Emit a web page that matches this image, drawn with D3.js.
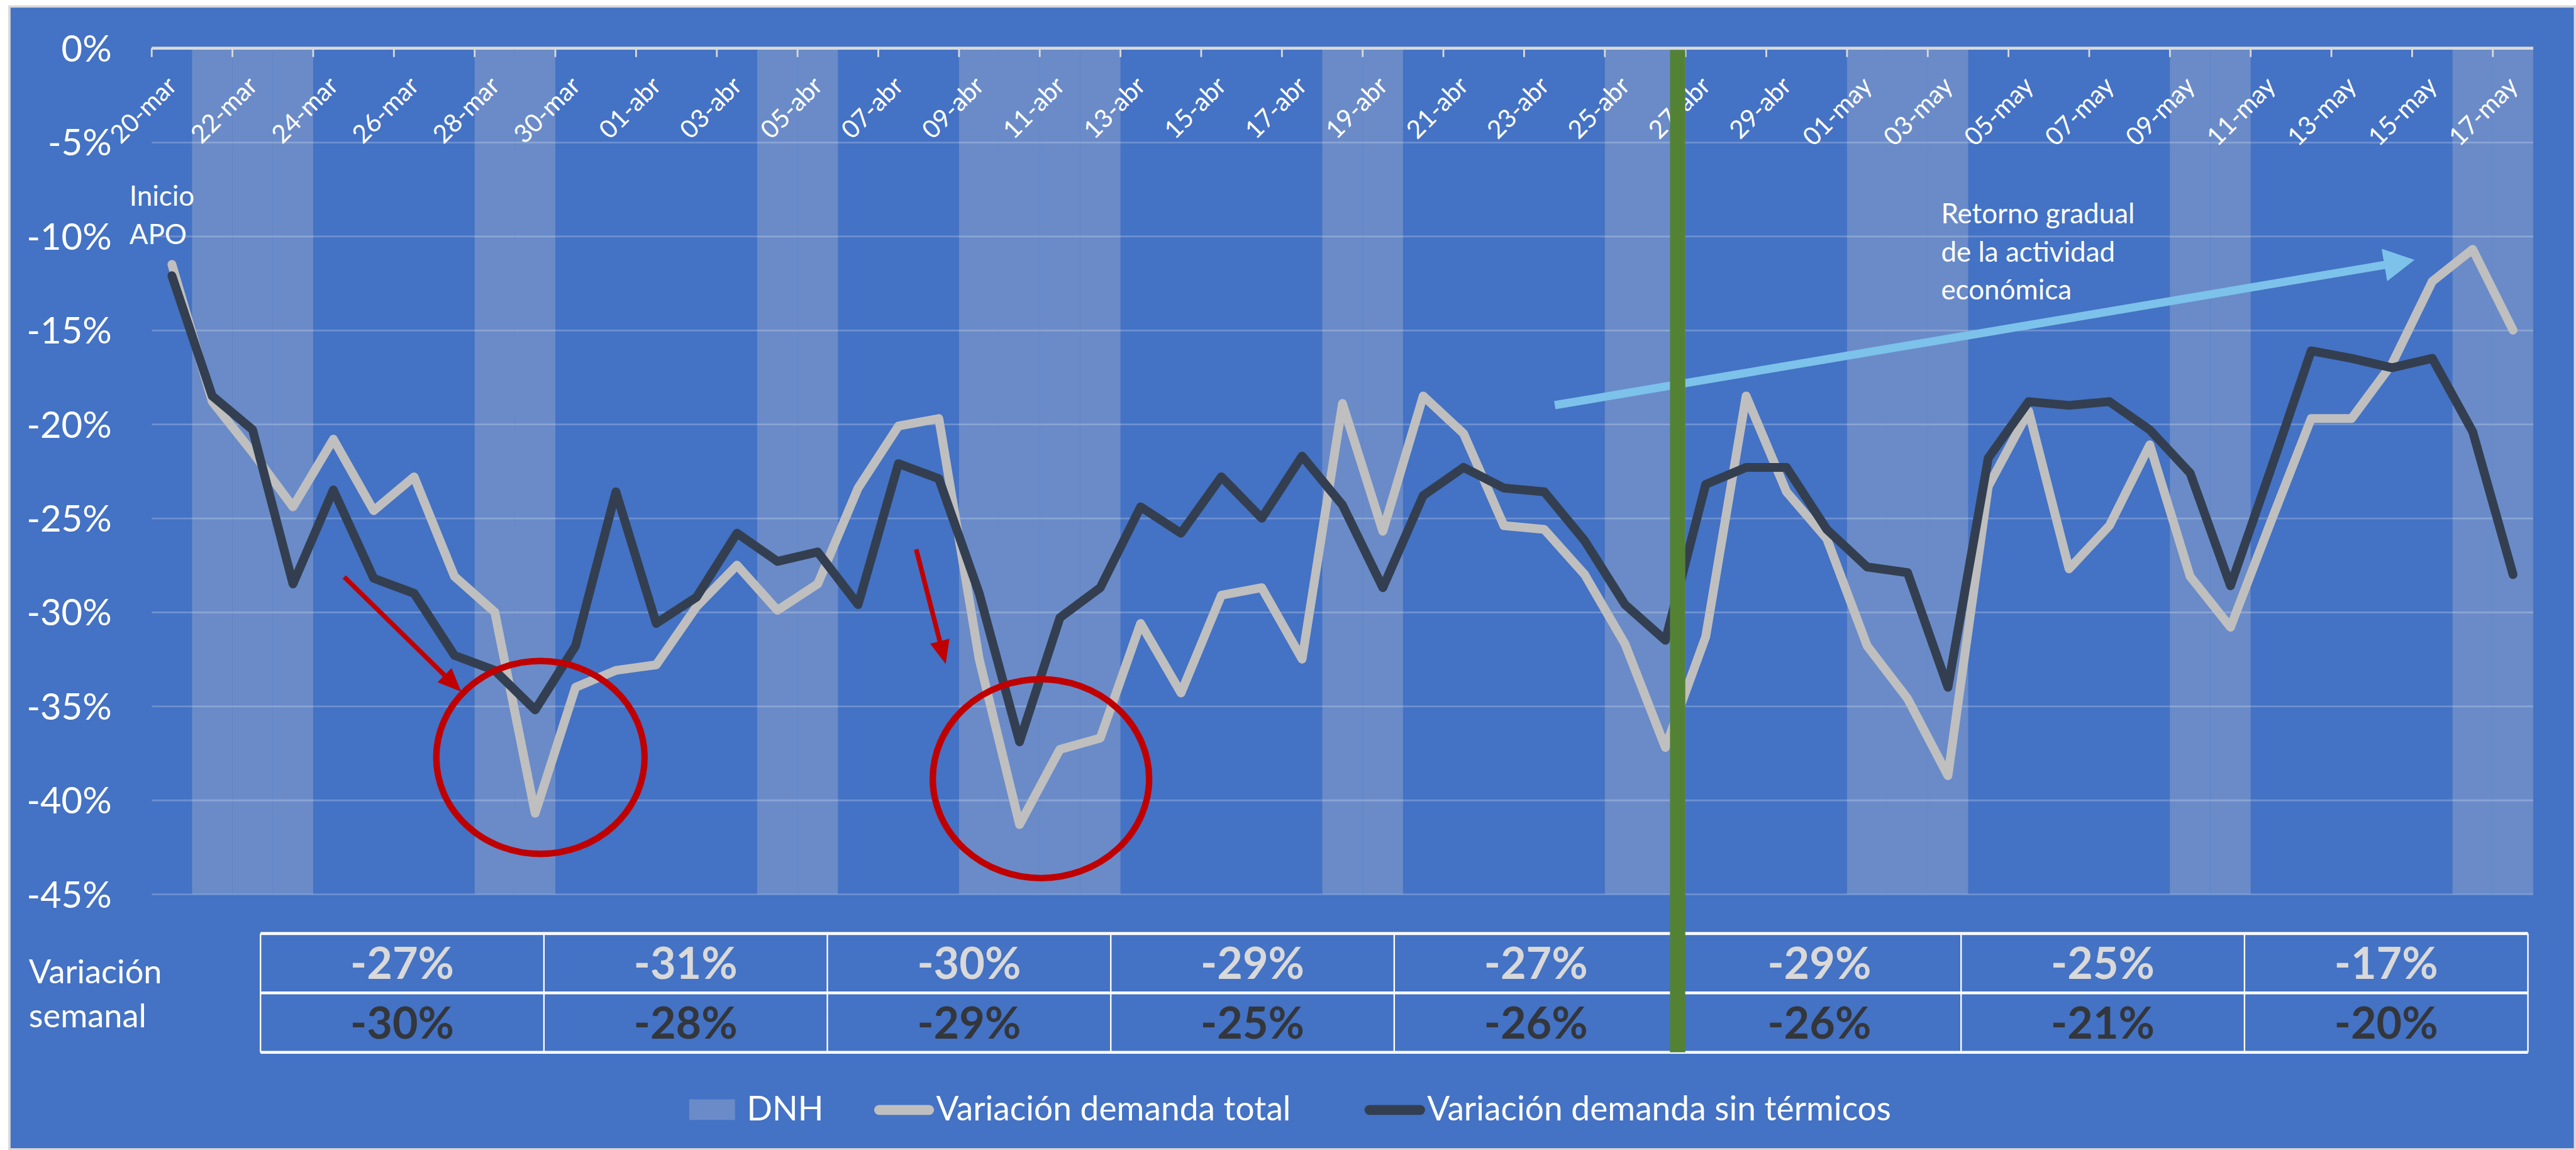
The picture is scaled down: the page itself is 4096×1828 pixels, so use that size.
<!DOCTYPE html>
<html>
<head>
<meta charset="utf-8">
<script src="https://cdn.jsdelivr.net/npm/d3@7"></script>
<style>
  html, body { margin: 0; padding: 0; background: #fff; }
  svg { display: block; }
  text { font-family: Lato, "Open Sans", sans-serif; }
</style>
</head>
<body>
<svg id="chart" width="4096" height="1828"></svg>
<script>
// categories, one per day
const dates = ["20-mar","21-mar","22-mar","23-mar","24-mar","25-mar","26-mar","27-mar","28-mar","29-mar","30-mar","31-mar",
  "01-abr","02-abr","03-abr","04-abr","05-abr","06-abr","07-abr","08-abr","09-abr","10-abr","11-abr","12-abr","13-abr","14-abr",
  "15-abr","16-abr","17-abr","18-abr","19-abr","20-abr","21-abr","22-abr","23-abr","24-abr","25-abr","26-abr","27-abr","28-abr",
  "29-abr","30-abr","01-may","02-may","03-may","04-may","05-may","06-may","07-may","08-may","09-may","10-may","11-may","12-may",
  "13-may","14-may","15-may","16-may","17-may"];

// non working days (DNH) drawn as columns down to -45%
const dnhDays = ["21-mar","22-mar","23-mar","28-mar","29-mar","04-abr","05-abr","09-abr","10-abr","11-abr","12-abr",
  "18-abr","19-abr","25-abr","26-abr","01-may","02-may","03-may","09-may","10-may","16-may","17-may"];
const dnhValue = -45;

// variacion demanda total (%)
const total = [-11.5,-18.8,-21.5,-24.4,-20.8,-24.6,-22.8,-28.1,-30.0,-40.7,-34.0,-33.1,-32.8,-29.7,-27.5,-29.9,-28.5,-23.4,
  -20.1,-19.7,-32.5,-41.3,-37.3,-36.7,-30.6,-34.3,-29.1,-28.7,-32.5,-18.9,-25.7,-18.5,-20.5,-25.4,-25.6,-28.0,-31.7,-37.2,
  -31.3,-18.5,-23.6,-26.1,-31.8,-34.6,-38.7,-23.3,-19.3,-27.7,-25.4,-21.1,-28.1,-30.8,-25.2,-19.7,-19.7,-16.8,-12.4,-10.7,-15.0];

// variacion demanda sin termicos (%)
const sinTermicos = [-12.1,-18.5,-20.3,-28.5,-23.5,-28.2,-29.0,-32.3,-33.1,-35.2,-31.8,-23.6,-30.6,-29.2,-25.8,-27.3,-26.8,-29.6,
  -22.1,-22.9,-29.0,-36.9,-30.3,-28.7,-24.4,-25.8,-22.8,-25.0,-21.7,-24.3,-28.7,-23.8,-22.3,-23.4,-23.6,-26.2,-29.6,-31.5,
  -23.2,-22.3,-22.3,-25.6,-27.6,-27.9,-34.0,-21.8,-18.8,-19.0,-18.8,-20.3,-22.6,-28.6,-22.4,-16.1,-16.5,-17.0,-16.5,-20.4,-28.0];

const yTicks = [0,-5,-10,-15,-20,-25,-30,-35,-40,-45];

// weekly table
const weeks = ["23-mar","30-mar","06-abr","13-abr","20-abr","27-abr","04-may","11-may"];
const weeklyTotal = [-27,-31,-30,-29,-27,-29,-25,-17];
const weeklySinTermicos = [-30,-28,-29,-25,-26,-26,-21,-20];

const S = 0.935;
const svg = d3.select("#chart");
const g = svg.append("g").attr("transform", `scale(${S})`);

// background panel
g.append("rect").attr("x", 16).attr("y", 11).attr("width", 4379 - 16).attr("height", 1954 - 11)
  .attr("fill", "#4472C4").attr("stroke", "#D9D9D9").attr("stroke-width", 4);

const x = d3.scaleBand().domain(dates).range([258, 4308]).padding(0);
const y = d3.scaleLinear().domain([-45, 0]).range([1520, 82]);
const xi = d3.scaleLinear().domain([0, dates.length]).range(x.range()); // fractional category positions
const cx = d => x(d) + x.bandwidth() / 2;

// DNH columns
g.append("g").selectAll("rect").data(dnhDays).join("rect")
  .attr("x", d => x(d)).attr("width", x.bandwidth())
  .attr("y", y(0)).attr("height", y(dnhValue) - y(0))
  .attr("fill", "#6A8BC8");

// y axis + gridlines
const yAxis = d3.axisLeft(y).tickValues(yTicks).tickSize(-(x.range()[1] - x.range()[0]))
  .tickPadding(68).tickFormat(d => d + "%");
const ya = g.append("g").attr("transform", `translate(${x.range()[0]},0)`).call(yAxis);
ya.select(".domain").remove();
ya.selectAll(".tick line").attr("stroke", "#FFFFFF").attr("stroke-opacity", 0.22).attr("stroke-width", 3);
ya.selectAll(".tick text").attr("fill", "#FFFFFF").attr("font-size", 62).attr("dy", "0.36em")
  .style("font-family", "Lato, sans-serif");

// x axis line, ticks and labels
g.append("line").attr("x1", x.range()[0]).attr("x2", x.range()[1]).attr("y1", y(0)).attr("y2", y(0))
  .attr("stroke", "#D9D9D9").attr("stroke-width", 5);
const labelDates = dates.filter((d, i) => i % 2 === 0);
g.append("g").selectAll("line").data(labelDates).join("line")
  .attr("x1", d => x(d)).attr("x2", d => x(d)).attr("y1", y(0)).attr("y2", y(0) + 15)
  .attr("stroke", "#D9D9D9").attr("stroke-width", 3);
const xAxis = d3.axisBottom(x).tickValues(labelDates).tickSize(0).tickPadding(0);
const xa = g.append("g").attr("transform", `translate(0,${y(0)})`).call(xAxis);
xa.select(".domain").remove();
xa.selectAll(".tick text").attr("y", 0).attr("dy", "0.35em")
  .attr("transform", "translate(0,56) rotate(-45)")
  .attr("text-anchor", "end").attr("fill", "#FFFFFF").attr("font-size", 43)
  .style("font-family", "Lato, sans-serif");

// series lines
const line = d3.line().x((d, i) => cx(dates[i])).y(d => y(d));
g.append("path").datum(total).attr("d", line).attr("fill", "none")
  .attr("stroke", "#BFBFBF").attr("stroke-width", 15).attr("stroke-linejoin", "round").attr("stroke-linecap", "round");
g.append("path").datum(sinTermicos).attr("d", line).attr("fill", "none")
  .attr("stroke", "#333F50").attr("stroke-width", 15).attr("stroke-linejoin", "round").attr("stroke-linecap", "round");

// arrows
function arrow(i1, v1, i2, v2, color, width, headLen, headHalf) {
  const x1 = xi(i1), y1 = y(v1), x2 = xi(i2), y2 = y(v2);
  const len = Math.hypot(x2 - x1, y2 - y1), ux = (x2 - x1) / len, uy = (y2 - y1) / len;
  const bx = x2 - ux * headLen, by = y2 - uy * headLen;
  g.append("line").attr("x1", x1).attr("y1", y1).attr("x2", bx + ux * 2).attr("y2", by + uy * 2)
    .attr("stroke", color).attr("stroke-width", width);
  g.append("polygon").attr("fill", color).attr("points", [
    [x2, y2], [bx - uy * headHalf, by + ux * headHalf], [bx + uy * headHalf, by - ux * headHalf]
  ].map(p => p.join(",")).join(" "));
}
arrow(4.77, -28.13, 7.67, -34.23, "#C00000", 8, 40, 17);
arrow(18.94, -26.66, 19.67, -32.76, "#C00000", 8, 40, 17);
arrow(34.76, -18.99, 56.06, -11.26, "#7CC2EA", 14, 52, 28);

// red circles
[[9.63, -37.73, 2.58, 5.13], [22.03, -38.86, 2.68, 5.29]].forEach(c => {
  g.append("ellipse").attr("cx", xi(c[0])).attr("cy", y(c[1]))
    .attr("rx", xi(c[2]) - xi(0)).attr("ry", y(-c[3]) - y(0))
    .attr("fill", "none").attr("stroke", "#C00000").attr("stroke-width", 11);
});

// annotation texts
const note = (txt, tx, ty) => g.append("text").attr("x", tx).attr("y", ty).text(txt)
  .attr("fill", "#FFFFFF").attr("font-size", 47);
note("Inicio", 220, 350);
note("APO", 220, 415);
note("Retorno gradual", 3301, 380);
note("de la actividad", 3301, 445);
note("económica", 3301, 509);

// weekly table
const tx = d3.scaleBand().domain(weeks).range([443, 4299]);
const rowY = [1587, 1688, 1789];
const tbl = g.append("g");
tbl.selectAll("line.h").data(rowY).join("line")
  .attr("x1", tx.range()[0]).attr("x2", tx.range()[1]).attr("y1", d => d).attr("y2", d => d)
  .attr("stroke", "#FFFFFF").attr("stroke-width", 5);
tbl.selectAll("line.v").data(weeks.concat(["end"])).join("line")
  .attr("x1", (d, i) => tx.range()[0] + i * tx.bandwidth()).attr("x2", (d, i) => tx.range()[0] + i * tx.bandwidth())
  .attr("y1", rowY[0]).attr("y2", rowY[2])
  .attr("stroke", "#FFFFFF").attr("stroke-width", 2.5);
[[weeklyTotal, "#D9D9D9"], [weeklySinTermicos, "#33363B"]].forEach((row, r) => {
  tbl.selectAll(null).data(row[0]).join("text")
    .attr("x", (d, i) => tx(weeks[i]) + tx.bandwidth() / 2)
    .attr("y", (rowY[r] + rowY[r + 1]) / 2).attr("dy", "0.36em")
    .attr("text-anchor", "middle").attr("font-size", 75).attr("font-weight", 700)
    .attr("fill", row[1]).text(d => d + "%");
});
g.append("text").attr("x", 49).attr("y", 1672).attr("fill", "#FFFFFF").attr("font-size", 56).text("Variación");
g.append("text").attr("x", 49).attr("y", 1747).attr("fill", "#FFFFFF").attr("font-size", 56).text("semanal");

// green marker (start of week 27-abr)
g.append("rect").attr("x", tx("27-abr") - 13).attr("width", 26)
  .attr("y", y(0) + 3).attr("height", rowY[2] - y(0) - 3).attr("fill", "#548235");

// legend
const lg = g.append("g");
lg.append("rect").attr("x", 1172).attr("y", 1869).attr("width", 78).attr("height", 35).attr("fill", "#6A8BC8");
lg.append("text").attr("x", 1270).attr("y", 1905).text("DNH");
lg.append("line").attr("x1", 1495).attr("x2", 1580).attr("y1", 1887).attr("y2", 1887)
  .attr("stroke", "#BFBFBF").attr("stroke-width", 17).attr("stroke-linecap", "round");
lg.append("text").attr("x", 1592).attr("y", 1905).text("Variación demanda total");
lg.append("line").attr("x1", 2329).attr("x2", 2415).attr("y1", 1887).attr("y2", 1887)
  .attr("stroke", "#333F50").attr("stroke-width", 17).attr("stroke-linecap", "round");
lg.append("text").attr("x", 2427).attr("y", 1905).text("Variación demanda sin térmicos");
lg.selectAll("text").attr("fill", "#FFFFFF").attr("font-size", 57);
</script>
</body>
</html>
